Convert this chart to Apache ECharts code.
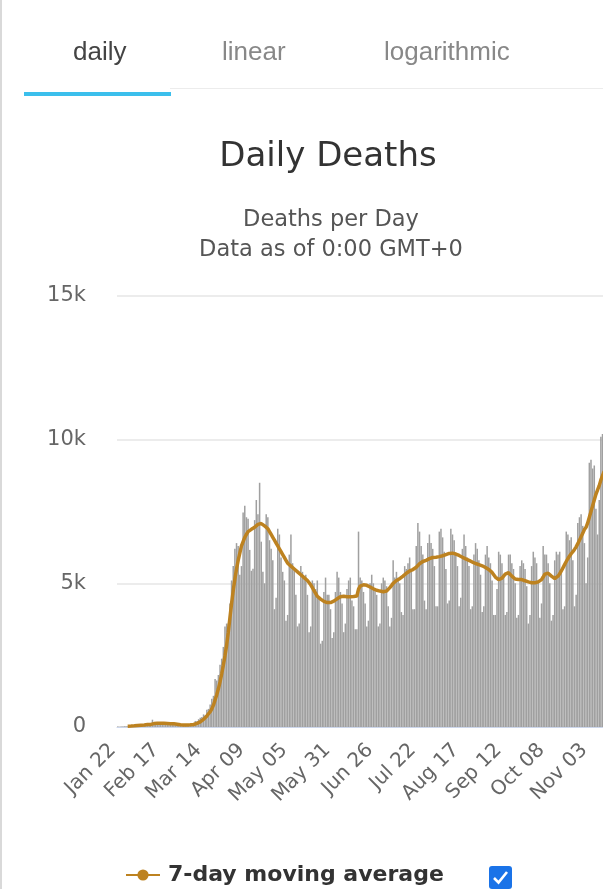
<!DOCTYPE html>
<html>
<head>
<meta charset="utf-8">
<script src="https://cdn.jsdelivr.net/npm/echarts@6/dist/echarts.min.js"></script>
<style>
  html, body { margin: 0; padding: 0; background: #fff; }
  #wrap { position: relative; width: 603px; height: 889px; overflow: hidden; border-left: 2px solid #d9d9d9; box-sizing: border-box; }
  .tab { position: absolute; top: 36px; line-height: 30px; font-family: "Liberation Sans", Arial, sans-serif; font-size: 26px; color: #888; }
  #chart { position: absolute; left: 0; top: 0; width: 603px; height: 889px; }
</style>
</head>
<body>
<div id="wrap">
  <div id="chart"></div>
  <div class="tab" style="left:71px;color:#444;">daily</div>
  <div class="tab" style="left:220px;">linear</div>
  <div class="tab" style="left:382px;">logarithmic</div>
  <div style="position:absolute;left:168px;top:88px;width:440px;height:1px;background:#ececec;"></div>
  <div style="position:absolute;left:22px;top:92px;width:147px;height:4px;background:#3bbfec;"></div>
</div>
<script>
// Daily deaths, Jan 22 .. Nov 12
const dailyJan = [17, 8, 16, 14, 26, 26, 26, 38, 43, 46];
const dailyFeb = [45, 57, 64, 66, 73, 73, 86, 89, 97, 108, 97, 254, 121, 143, 142, 105, 98, 139, 115, 125, 125, 102, 98, 158, 78, 64, 58, 68, 71];
const dailyMar = [58, 72, 75, 91, 97, 99, 100, 113, 211, 198, 272, 322, 346, 438, 412, 603, 630, 779, 983, 1085, 1672, 1617, 1810, 2164, 2378, 2787, 3500, 3600, 3600, 4300, 5100];
const dailyApr = [5600, 6200, 6400, 6300, 5300, 5600, 7466, 7700, 7300, 7252, 6163, 5437, 5510, 7200, 7900, 7400, 8500, 6450, 5400, 5000, 7400, 7300, 6500, 6200, 5800, 4100, 4500, 6900, 6700, 5900];
const dailyMay = [5400, 5100, 3700, 3900, 6000, 6700, 5700, 5500, 4600, 3500, 3600, 5600, 5400, 5200, 5300, 4600, 3300, 3500, 5100, 5000, 4800, 5100, 4500, 2900, 3000, 4700, 5200, 4600, 4600, 4100, 3100];
const dailyJun = [3300, 4700, 5400, 5200, 4700, 4300, 3300, 3600, 4800, 5100, 5200, 4400, 4200, 3400, 3400, 6800, 5200, 5100, 4700, 4300, 3500, 3700, 5000, 5300, 5000, 4800, 4600, 3500, 3600, 5000];
const dailyJul = [5200, 5100, 4900, 4200, 3500, 3800, 5800, 5200, 5400, 5200, 5000, 4000, 3900, 5600, 5500, 5700, 5900, 5500, 4100, 4100, 6300, 7100, 6800, 6300, 6000, 4400, 4100, 6400, 6700, 6400, 6200];
const dailyAug = [5600, 4200, 4200, 6800, 6900, 6600, 6100, 5500, 4300, 4400, 6900, 6700, 6500, 6000, 5600, 4200, 4500, 6200, 6700, 6300, 5900, 5600, 4100, 4200, 6000, 6400, 6200, 5800, 5300, 4000, 4200];
const dailySep = [6000, 6300, 5900, 5700, 5100, 3900, 3900, 4800, 6100, 6000, 5700, 5300, 3900, 4000, 6000, 6000, 5700, 5500, 5000, 3800, 3900, 5600, 5800, 5700, 5500, 4900, 3600, 3900, 5600, 6100];
const dailyOct = [5900, 5700, 5100, 3800, 4300, 6300, 6000, 6000, 5700, 5000, 3700, 3900, 5800, 6100, 6000, 6100, 5500, 4100, 4200, 6800, 6700, 6500, 6600, 5800, 4200, 4600, 7100, 7300, 7400, 7000, 6400];
const dailyNov = [5000, 5900, 9200, 9300, 9000, 9100, 7600, 6700, 7900, 10100, 10200, 9800];

// 7-day moving average
const avgJan = [null, null, null, null, null, null, 25, 28, 31, 35];
const avgFeb = [40, 45, 51, 57, 62, 66, 71, 76, 83, 88, 91, 115, 119, 126, 131, 135, 133, 138, 127, 124, 121, 116, 115, 117, 112, 104, 95, 90, 77];
const avgMar = [74, 70, 68, 71, 73, 76, 82, 88, 108, 127, 151, 180, 220, 265, 320, 385, 450, 530, 630, 760, 940, 1120, 1330, 1570, 1850, 2150, 2480, 2850, 3300, 3800, 4300];
const avgApr = [4750, 5150, 5500, 5800, 6050, 6300, 6450, 6600, 6700, 6800, 6850, 6880, 6900, 6950, 7000, 7050, 7100, 7080, 7050, 7000, 6950, 6900, 6800, 6700, 6600, 6500, 6400, 6300, 6200, 6100];
const avgMay = [6000, 5900, 5800, 5700, 5650, 5600, 5550, 5500, 5450, 5400, 5350, 5300, 5250, 5200, 5150, 5100, 5050, 4950, 4850, 4750, 4650, 4550, 4500, 4450, 4400, 4370, 4350, 4330, 4330, 4330, 4350];
const avgJun = [4380, 4420, 4460, 4500, 4530, 4550, 4550, 4540, 4530, 4520, 4530, 4540, 4540, 4550, 4560, 4800, 4900, 4920, 4950, 4950, 4930, 4900, 4870, 4840, 4810, 4780, 4760, 4740, 4730, 4720];
const avgJul = [4710, 4710, 4730, 4780, 4850, 4920, 5000, 5050, 5100, 5130, 5160, 5200, 5250, 5300, 5350, 5400, 5430, 5460, 5480, 5500, 5560, 5620, 5680, 5730, 5760, 5780, 5800, 5830, 5860, 5880, 5900];
const avgAug = [5900, 5910, 5920, 5930, 5940, 5960, 5980, 6000, 6020, 6040, 6050, 6050, 6040, 6020, 6000, 5970, 5940, 5910, 5880, 5850, 5830, 5800, 5770, 5740, 5710, 5690, 5670, 5650, 5630, 5610, 5590];
const avgSep = [5550, 5520, 5480, 5440, 5380, 5300, 5220, 5160, 5130, 5130, 5180, 5250, 5320, 5360, 5370, 5320, 5250, 5200, 5150, 5130, 5130, 5140, 5130, 5110, 5090, 5070, 5050, 5030, 5020, 5020];
const avgOct = [5020, 5030, 5050, 5080, 5130, 5220, 5320, 5370, 5350, 5300, 5250, 5200, 5170, 5190, 5250, 5330, 5430, 5540, 5650, 5760, 5860, 5950, 6030, 6100, 6180, 6270, 6380, 6500, 6620, 6740, 6870];
const avgNov = [6950, 7100, 7300, 7500, 7700, 7900, 8100, 8250, 8400, 8600, 8750, 8900];

const yTicks = [0, 5000, 10000, 15000];
const yTickLabels = ['0', '5k', '10k', '15k'];
const monthNames = ['Jan', 'Feb', 'Mar', 'Apr', 'May', 'Jun', 'Jul', 'Aug', 'Sep', 'Oct', 'Nov', 'Dec'];

const daily = [].concat(dailyJan, dailyFeb, dailyMar, dailyApr, dailyMay, dailyJun, dailyJul, dailyAug, dailySep, dailyOct, dailyNov);
const avg = [].concat(avgJan, avgFeb, avgMar, avgApr, avgMay, avgJun, avgJul, avgAug, avgSep, avgOct, avgNov);

// category labels: one per day starting Jan 22 (2020)
const categories = [];
for (let i = 0; i < daily.length; i++) {
  const d = new Date(Date.UTC(2020, 0, 22 + i));
  const dd = String(d.getUTCDate()).padStart(2, '0');
  categories.push(monthNames[d.getUTCMonth()] + ' ' + dd);
}

const chart = echarts.init(document.getElementById('chart'), null, { renderer: 'canvas' });
chart.setOption({
  animation: false,
  title: [
    { text: 'Daily Deaths', left: 321, top: 135, textAlign: 'center',
      textStyle: { fontFamily: 'DejaVu Sans', fontSize: 34, fontWeight: 'normal', color: '#333' } },
    { text: 'Deaths per Day\nData as of 0:00 GMT+0', left: 324, top: 200, textAlign: 'center',
      textStyle: { fontFamily: 'DejaVu Sans', fontSize: 22.5, fontWeight: 'normal', color: '#555', lineHeight: 30 } }
  ],
  legend: {
    data: ['7-day moving average'],
    left: 118, top: 859,
    itemWidth: 34, itemHeight: 14, itemGap: 10,
    textStyle: { fontFamily: 'DejaVu Sans', fontSize: 22, fontWeight: 'bold', color: '#333', padding: [0, 0, 0, 3] }
  },
  grid: { left: 115, right: 0, top: 296, bottom: 162, containLabel: false },
  xAxis: {
    type: 'category',
    data: categories,
    boundaryGap: true,
    axisLine: { lineStyle: { color: '#ccd6eb', width: 1 } },
    axisTick: { show: false },
    axisLabel: {
      interval: 25, rotate: 45, margin: 15, padding: [0, 7, 0, 0],
      fontFamily: 'DejaVu Sans', fontSize: 20, color: '#666'
    },
    splitLine: { show: false }
  },
  yAxis: {
    type: 'value',
    min: 0, max: 15000, interval: 5000,
    axisLine: { show: false },
    axisTick: { show: false },
    axisLabel: {
      margin: 31, fontFamily: 'DejaVu Sans', fontSize: 21, color: '#666',
      formatter: function (v) { const k = yTicks.indexOf(v); return k >= 0 ? yTickLabels[k] : ''; }
    },
    splitLine: { lineStyle: { color: '#e6e6e6', width: 1.5 } }
  },
  series: [
    {
      name: 'Daily Deaths', type: 'bar', data: daily,
      barCategoryGap: '8%',
      itemStyle: { color: '#a0a0a0' },
      z: 1
    },
    {
      name: '7-day moving average', type: 'line', data: avg,
      symbol: 'circle', symbolSize: 11, showSymbol: false,
      smooth: false,
      lineStyle: { color: '#bd8220', width: 3.5 },
      itemStyle: { color: '#bd8220' },
      z: 3
    }
  ],
  graphic: [
    { type: 'rect', shape: { x: 487, y: 866, width: 23, height: 23, r: 3 }, style: { fill: '#1a73e8' } },
    { type: 'polyline', shape: { points: [[492, 878], [496.5, 882.5], [505, 872]] }, style: { stroke: '#fff', lineWidth: 2.6, fill: null } }
  ]
});
</script>
</body>
</html>
